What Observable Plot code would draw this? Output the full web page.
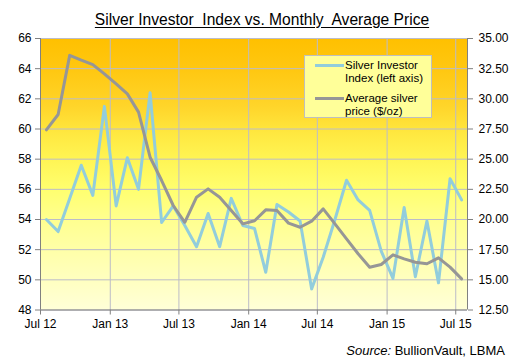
<!DOCTYPE html>
<html>
<head>
<meta charset="utf-8">
<script src="https://cdn.jsdelivr.net/npm/d3@7"></script>
<script src="https://cdn.jsdelivr.net/npm/@observablehq/plot@0.6"></script>
<style>
  body { margin: 0; background: #fff; }
  #wrap { position: relative; width: 511px; height: 359px; font-family: "Liberation Sans", Arial, sans-serif; }
  #title { position: absolute; left: 0; width: 524px; top: 11px; text-align: center; font-size: 15.6px; line-height: 18px; white-space: pre; text-decoration: underline; text-underline-offset: 2px; color: #000; }
  #legend { position: absolute; left: 304px; top: 55px; width: 128px; height: 63px; background: #FFFF99; border: 1px solid #BFBFBF; box-sizing: border-box; font-size: 11.5px; line-height: 13px; color: #000; }
  .li { position: absolute; left: 40px; white-space: pre; }
  .sw { position: absolute; left: 10px; width: 29px; height: 3px; }
  #source { position: absolute; right: 6px; top: 343px; font-size: 13px; line-height: 15px; color: #000; white-space: pre; }
  svg { position: absolute; left: 0; top: 0; }
</style>
</head>
<body>
<div id="wrap">
  <div id="title">Silver Investor  Index vs. Monthly  Average Price</div>
</div>
<script>
const months = ["2012-07","2012-08","2012-09","2012-10","2012-11","2012-12",
  "2013-01","2013-02","2013-03","2013-04","2013-05","2013-06","2013-07","2013-08","2013-09","2013-10","2013-11","2013-12",
  "2014-01","2014-02","2014-03","2014-04","2014-05","2014-06","2014-07","2014-08","2014-09","2014-10","2014-11","2014-12",
  "2015-01","2015-02","2015-03","2015-04","2015-05","2015-06","2015-07"];
const investorIndex = [54.0, 53.2, 55.4, 57.6, 55.6, 61.5, 54.9, 58.1, 56.0, 62.4, 53.8, 54.9,
  53.6, 52.2, 54.4, 52.2, 55.4, 53.6, 53.4, 50.5, 55.0, 54.5, 53.9, 49.4,
  51.5, 54.0, 56.6, 55.3, 54.6, 51.9, 50.1, 54.8, 50.2, 53.9, 49.8, 56.7, 55.3];
const silverPrice = [27.43, 28.70, 33.60, 33.20, 32.84, 32.07, 31.24, 30.41, 28.90, 25.16, 23.23, 21.16,
  19.77, 21.85, 22.54, 21.85, 20.74, 19.64, 19.90, 20.80, 20.74, 19.70, 19.36, 19.86,
  20.88, 19.64, 18.40, 17.16, 16.05, 16.27, 17.07, 16.74, 16.46, 16.33, 16.82, 16.05, 15.08];
const leftTicks = [48, 50, 52, 54, 56, 58, 60, 62, 64, 66];
const rightTicks = [12.5, 15, 17.5, 20, 22.5, 25, 27.5, 30, 32.5, 35];
const xTickLabels = ["Jul 12", "Jan 13", "Jul 13", "Jan 14", "Jul 14", "Jan 15", "Jul 15"];
const xTickMonths = ["2012-07", "2013-01", "2013-07", "2014-01", "2014-07", "2015-01", "2015-07"];
const seriesNames = ["Silver Investor\nIndex (left axis)", "Average silver\nprice ($/oz)"];
const seriesColors = ["#92CDDC", "#969696"];

const parseMonth = s => { const [y, m] = s.split("-").map(Number); return new Date(Date.UTC(y, m - 1, 1)); };
const midMonth = s => { const [y, m] = s.split("-").map(Number); return new Date((Date.UTC(y, m - 1, 1) + Date.UTC(y, m, 1)) / 2); };
// map right-axis price onto left-axis units
const toLeft = p => 48 + (p - 12.5) * 0.8;

const data = months.map((m, i) => ({date: midMonth(m), index: investorIndex[i], price: toLeft(silverPrice[i])}));
const tickDates = xTickMonths.map(parseMonth);
const xDomain = [parseMonth(months[0]), new Date(Date.UTC(2015, 7, 1))];
const labelFor = d => xTickLabels[tickDates.findIndex(t => +t === +d)];

const plot = Plot.plot({
  width: 511, height: 359,
  marginTop: 38, marginBottom: 49.5, marginLeft: 40, marginRight: 44,
  style: {fontFamily: "'Liberation Sans', Arial, sans-serif", fontSize: "12px", color: "#000", background: "transparent", overflow: "visible"},
  x: {type: "utc", domain: xDomain, label: null},
  y: {domain: [48, 66], label: null},
  marks: [
    Plot.frame({fill: "url(#bgGrad)", stroke: "none"}),
    Plot.gridY(leftTicks, {stroke: "#BCBCC8", strokeOpacity: 1, strokeWidth: 1}),
    Plot.gridX(tickDates, {stroke: "#BCBCC8", strokeOpacity: 1, strokeWidth: 1}),
    Plot.axisY(leftTicks, {anchor: "left", tickSize: 5, tickPadding: 4, stroke: "#808080", fill: "#000", label: null, fontSize: 12}),
    Plot.axisY(rightTicks.map(toLeft), {anchor: "right", tickSize: 5, tickPadding: 6, stroke: "#808080", fill: "#000", label: null, fontSize: 12,
      tickFormat: v => ((v - 48) / 0.8 + 12.5).toFixed(2)}),
    Plot.axisX(tickDates, {anchor: "bottom", tickSize: 5, tickPadding: 4, stroke: "#808080", fill: "#000", label: null, fontSize: 12, tickFormat: labelFor}),
    Plot.ruleX(xDomain, {stroke: "#808080", strokeWidth: 1}),
    Plot.ruleY([48], {stroke: "#808080", strokeWidth: 1}),
    Plot.line(data, {x: "date", y: "index", stroke: seriesColors[0], strokeWidth: 3}),
    Plot.line(data, {x: "date", y: "price", stroke: seriesColors[1], strokeWidth: 3})
  ]
});

const defs = d3.select(plot).insert("defs", ":first-child");
const grad = defs.append("linearGradient").attr("id", "bgGrad").attr("x1", 0).attr("y1", 0).attr("x2", 0).attr("y2", 1);
[[0, "#FFC000"], [0.12, "#FFC812"], [0.25, "#FFD52A"], [0.35, "#FFE840"], [0.45, "#FFF555"], [0.56, "#FFFF70"],
 [0.67, "#FFFF90"], [0.78, "#FFFFA8"], [0.89, "#FFFFC0"], [1, "#FFFFD8"]].forEach(([o, c]) =>
  grad.append("stop").attr("offset", o).attr("stop-color", c));

const wrap = document.getElementById("wrap");
wrap.insertBefore(plot, wrap.firstChild);

// legend
const legend = document.createElement("div");
legend.id = "legend";
seriesNames.forEach((name, i) => {
  const top = i === 0 ? 3 : 36;
  const t = document.createElement("div");
  t.className = "li"; t.style.top = top + "px"; t.textContent = name;
  legend.appendChild(t);
  const sw = document.createElement("div");
  sw.className = "sw"; sw.style.top = (top + 5) + "px"; sw.style.background = seriesColors[i];
  legend.appendChild(sw);
});
wrap.appendChild(legend);

const src = document.createElement("div");
src.id = "source";
src.innerHTML = "<i>Source:</i> BullionVault, LBMA";
wrap.appendChild(src);
</script>
</body>
</html>
